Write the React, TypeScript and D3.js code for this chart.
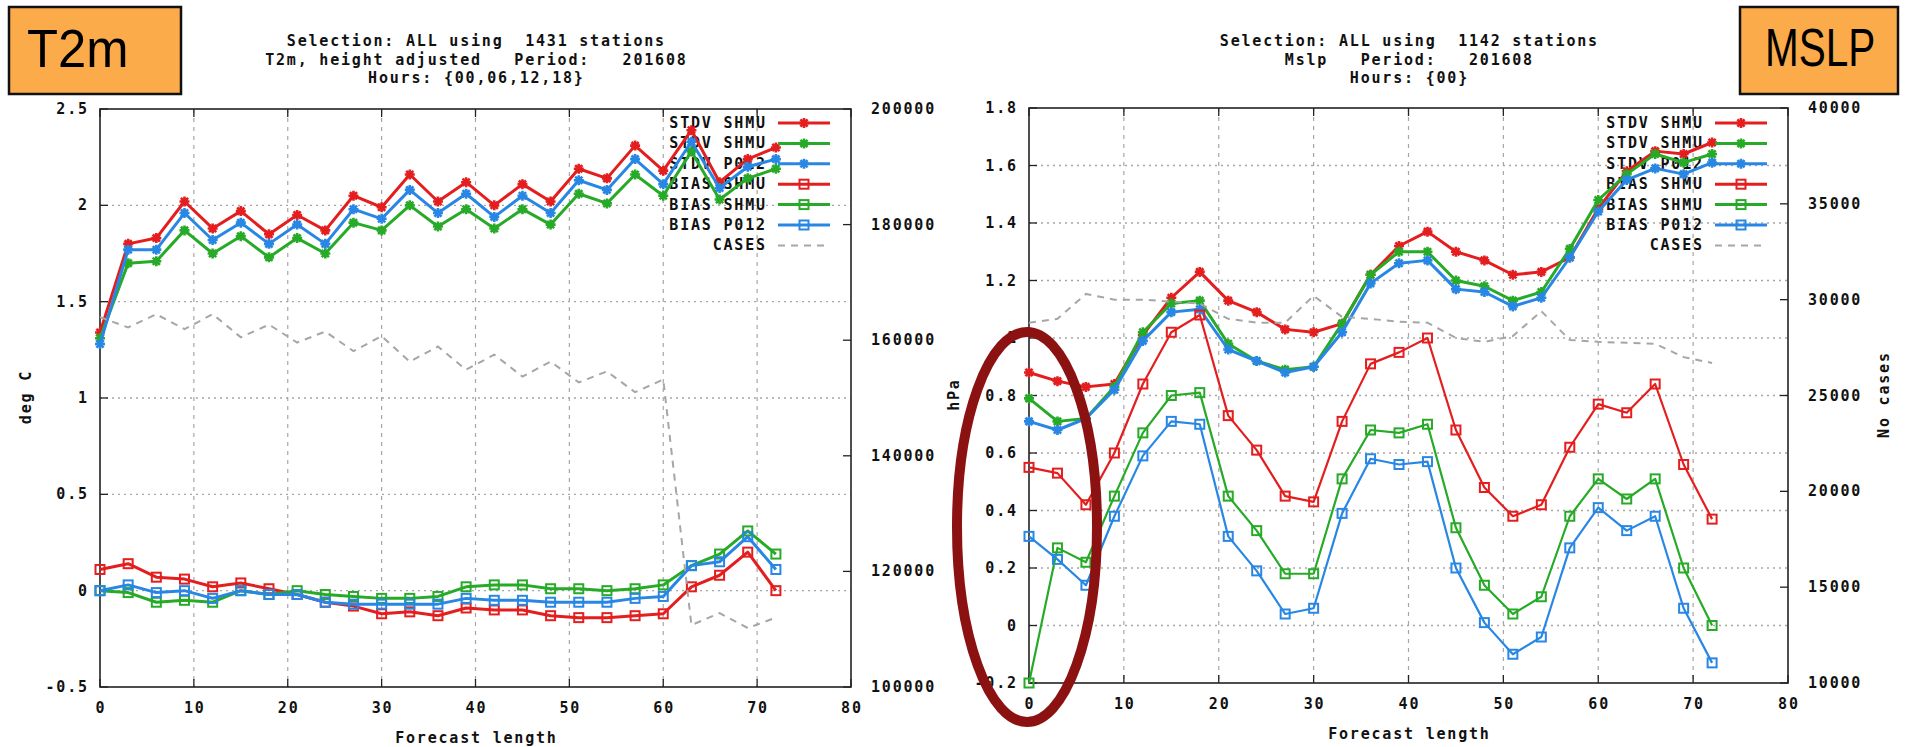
import React from 'react';
import * as d3 from 'd3';

// forecast lengths (hours) shared by both panels
const forecastHours = [0, 3, 6, 9, 12, 15, 18, 21, 24, 27, 30, 33, 36, 39, 42, 45, 48, 51, 54, 57, 60, 63, 66, 69, 72];

// T2m panel
const t2mStdvShmu = [1.34, 1.80, 1.83, 2.02, 1.88, 1.97, 1.85, 1.95, 1.87, 2.05, 1.99, 2.16, 2.02, 2.12, 2.00, 2.11, 2.02, 2.19, 2.14, 2.31, 2.18, 2.39, 2.12, 2.24, 2.30];
const t2mStdvShmu2 = [1.31, 1.70, 1.71, 1.87, 1.75, 1.84, 1.73, 1.83, 1.75, 1.91, 1.87, 2.00, 1.89, 1.98, 1.88, 1.98, 1.90, 2.06, 2.01, 2.16, 2.05, 2.28, 2.03, 2.14, 2.19];
const t2mStdvP012 = [1.28, 1.77, 1.77, 1.96, 1.82, 1.91, 1.80, 1.90, 1.80, 1.98, 1.93, 2.08, 1.96, 2.06, 1.94, 2.05, 1.96, 2.13, 2.08, 2.24, 2.11, 2.33, 2.09, 2.20, 2.24];
const t2mBiasShmu = [0.11, 0.14, 0.07, 0.06, 0.02, 0.04, 0.01, -0.02, -0.06, -0.08, -0.12, -0.11, -0.13, -0.09, -0.10, -0.10, -0.13, -0.14, -0.14, -0.13, -0.12, 0.02, 0.08, 0.20, 0.0];
const t2mBiasShmu2 = [0.0, -0.01, -0.06, -0.05, -0.06, 0.0, -0.02, 0.0, -0.02, -0.03, -0.04, -0.04, -0.03, 0.02, 0.03, 0.03, 0.01, 0.01, 0.0, 0.01, 0.03, 0.13, 0.19, 0.31, 0.19];
const t2mBiasP012 = [0.0, 0.03, -0.01, 0.0, -0.04, 0.0, -0.02, -0.02, -0.06, -0.07, -0.07, -0.07, -0.07, -0.04, -0.05, -0.05, -0.06, -0.06, -0.06, -0.04, -0.03, 0.13, 0.15, 0.28, 0.11];
const t2mCases = [164000, 162200, 164500, 161900, 164500, 160500, 162700, 159600, 161500, 158100, 160700, 156300, 158900, 154900, 157500, 153700, 156300, 152700, 154600, 151000, 153200, 110700, 112800, 110200, 112000];

// MSLP panel
const mslpStdvShmu = [0.88, 0.85, 0.83, 0.84, 1.01, 1.14, 1.23, 1.13, 1.09, 1.03, 1.02, 1.05, 1.22, 1.32, 1.37, 1.30, 1.27, 1.22, 1.23, 1.28, 1.45, 1.58, 1.65, 1.64, 1.68];
const mslpStdvShmu2 = [0.79, 0.71, 0.72, 0.83, 1.02, 1.12, 1.13, 0.98, 0.92, 0.89, 0.90, 1.05, 1.22, 1.30, 1.30, 1.20, 1.18, 1.13, 1.16, 1.31, 1.48, 1.57, 1.64, 1.61, 1.64];
const mslpStdvP012 = [0.71, 0.68, 0.72, 0.82, 0.99, 1.09, 1.10, 0.96, 0.92, 0.88, 0.90, 1.02, 1.19, 1.26, 1.27, 1.17, 1.16, 1.11, 1.14, 1.28, 1.44, 1.55, 1.59, 1.57, 1.61];
const mslpBiasShmu = [0.55, 0.53, 0.42, 0.60, 0.84, 1.02, 1.08, 0.73, 0.61, 0.45, 0.43, 0.71, 0.91, 0.95, 1.00, 0.68, 0.48, 0.38, 0.42, 0.62, 0.77, 0.74, 0.84, 0.56, 0.37];
const mslpBiasShmu2 = [-0.20, 0.27, 0.22, 0.45, 0.67, 0.80, 0.81, 0.45, 0.33, 0.18, 0.18, 0.51, 0.68, 0.67, 0.70, 0.34, 0.14, 0.04, 0.10, 0.38, 0.51, 0.44, 0.51, 0.20, 0.0];
const mslpBiasP012 = [0.31, 0.23, 0.14, 0.38, 0.59, 0.71, 0.70, 0.31, 0.19, 0.04, 0.06, 0.39, 0.58, 0.56, 0.57, 0.20, 0.01, -0.10, -0.04, 0.27, 0.41, 0.33, 0.38, 0.06, -0.13];
const mslpCases = [28800, 29000, 30300, 30000, 30000, 29900, 29800, 29000, 28800, 28800, 30200, 29100, 29000, 28850, 28800, 28000, 27800, 28100, 29400, 27900, 27800, 27750, 27700, 27000, 26700];

const xTicks = [0, 10, 20, 30, 40, 50, 60, 70, 80];
const t2mYTicks = [-0.5, 0, 0.5, 1, 1.5, 2, 2.5];
const t2mY2Ticks = [100000, 120000, 140000, 160000, 180000, 200000];
const mslpYTicks = [-0.2, 0, 0.2, 0.4, 0.6, 0.8, 1, 1.2, 1.4, 1.6, 1.8];
const mslpY2Ticks = [10000, 15000, 20000, 25000, 30000, 35000, 40000];

const legendNames = ['STDV SHMU', 'STDV SHMU', 'STDV P012', 'BIAS SHMU', 'BIAS SHMU', 'BIAS P012'];

const RED = '#e41e1e';
const GREEN = '#27aa27';
const BLUE = '#2887e4';
const GREY = '#a6a6a6';
const MONO = "'DejaVu Sans Mono', monospace";
const LS = 1.8;

type Series = { values: number[]; color: string; marker: 'star' | 'square'; width: number };

interface PanelProps {
  x0: number; x1: number; y0: number; y1: number;
  yDomain: [number, number]; yTicks: number[];
  y2Domain: [number, number]; y2Ticks: number[];
  yLabel: string; yLabelX: number;
  y2Label?: string; y2LabelX?: number;
  title: string[];
  series: Series[];
  cases: number[];
}

const Txt: React.FC<{ x: number; y: number; anchor?: string; children: React.ReactNode }> = ({ x, y, anchor = 'start', children }) => {
  // letter-spacing leaves a trailing gap, shift to keep anchors honest
  const dx = anchor === 'end' ? LS : anchor === 'middle' ? LS / 2 : 0;
  return (
    <text x={x + dx} y={y} textAnchor={anchor} fontFamily={MONO} fontWeight="bold" fontSize={15}
      letterSpacing={LS} fill="#111" style={{ whiteSpace: 'pre' }}>{children}</text>
  );
};

const Marker: React.FC<{ kind: 'star' | 'square'; cx: number; cy: number; color: string }> = ({ kind, cx, cy, color }) => {
  if (kind === 'square') {
    return <rect x={cx - 4.5} y={cy - 4.5} width={9} height={9} fill="none" stroke={color} strokeWidth={2} />;
  }
  return (
    <path d={`M${cx - 5},${cy}H${cx + 5}M${cx},${cy - 5}V${cy + 5}M${cx - 3.6},${cy - 3.6}L${cx + 3.6},${cy + 3.6}M${cx - 3.6},${cy + 3.6}L${cx + 3.6},${cy - 3.6}`}
      stroke={color} strokeWidth={2.6} fill="none" />
  );
};

const Panel: React.FC<PanelProps> = (p) => {
  const x = d3.scaleLinear().domain([0, 80]).range([p.x0, p.x1]);
  const y = d3.scaleLinear().domain(p.yDomain).range([p.y1, p.y0]);
  const y2 = d3.scaleLinear().domain(p.y2Domain).range([p.y1, p.y0]);
  const line = d3.line<number>().x((_, i) => x(forecastHours[i])).y(d => y(d));
  const caseLine = d3.line<number>().x((_, i) => x(forecastHours[i])).y(d => y2(d));
  const cx = (p.x0 + p.x1) / 2;
  const cy = (p.y0 + p.y1) / 2;
  const legX = p.x1 - 86;
  const legRow = (i: number) => 123 + i * 20.4;

  return (
    <g>
      {p.title.map((t, i) => (
        <Txt key={i} x={cx} y={46 + i * 18.5} anchor="middle">{t}</Txt>
      ))}

      {/* grid */}
      {p.yTicks.slice(1, -1).map(t => (
        <line key={'gy' + t} x1={p.x0} x2={p.x1} y1={y(t)} y2={y(t)} stroke={GREY} strokeWidth={1.3} strokeDasharray="2,4" />
      ))}
      {xTicks.slice(1, -1).map(t => (
        <line key={'gx' + t} x1={x(t)} x2={x(t)} y1={p.y0} y2={p.y1} stroke={GREY} strokeWidth={1.2} strokeDasharray="4,5" />
      ))}

      {/* ticks */}
      {xTicks.map(t => (
        <g key={'tx' + t}>
          <line x1={x(t)} x2={x(t)} y1={p.y1} y2={p.y1 - 8} stroke="#222" strokeWidth={1.3} />
          <line x1={x(t)} x2={x(t)} y1={p.y0} y2={p.y0 + 8} stroke="#222" strokeWidth={1.3} />
          <Txt x={x(t)} y={p.y1 + 26} anchor="middle">{String(t)}</Txt>
        </g>
      ))}
      {p.yTicks.map(t => (
        <g key={'ty' + t}>
          <line x1={p.x0} x2={p.x0 + 8} y1={y(t)} y2={y(t)} stroke="#222" strokeWidth={1.3} />
          <Txt x={p.x0 - 13} y={y(t) + 5} anchor="end">{String(t)}</Txt>
        </g>
      ))}
      {p.y2Ticks.map(t => (
        <g key={'ty2' + t}>
          <line x1={p.x1} x2={p.x1 - 8} y1={y2(t)} y2={y2(t)} stroke="#222" strokeWidth={1.3} />
          <Txt x={p.x1 + 20} y={y2(t) + 5}>{String(t)}</Txt>
        </g>
      ))}

      <rect x={p.x0} y={p.y0} width={p.x1 - p.x0} height={p.y1 - p.y0} fill="none" stroke="#222" strokeWidth={1.6} />

      {/* axis titles */}
      <Txt x={cx} y={p.y1 + 56} anchor="middle">Forecast length</Txt>
      <g transform={`translate(${p.yLabelX + 5},${cy}) rotate(-90)`}>
        <Txt x={0} y={0} anchor="middle">{p.yLabel}</Txt>
      </g>
      {p.y2Label && (
        <g transform={`translate(${(p.y2LabelX || 0) + 5},${cy}) rotate(-90)`}>
          <Txt x={0} y={0} anchor="middle">{p.y2Label}</Txt>
        </g>
      )}

      {/* legend text */}
      {legendNames.map((n, i) => (
        <Txt key={'lt' + i} x={legX} y={legRow(i) + 5} anchor="end">{n}</Txt>
      ))}
      <Txt x={legX} y={legRow(6) + 5} anchor="end">CASES</Txt>

      {/* data */}
      {p.series.map((s, i) => (
        <g key={'s' + i}>
          <line x1={p.x1 - 73} x2={p.x1 - 21} y1={legRow(i)} y2={legRow(i)} stroke={s.color} strokeWidth={3} />
          <Marker kind={s.marker} cx={p.x1 - 47} cy={legRow(i)} color={s.color} />
          <path d={line(s.values) || ''} fill="none" stroke={s.color} strokeWidth={s.width} strokeLinejoin="round" />
          {s.values.map((v, j) => (
            <Marker key={j} kind={s.marker} cx={x(forecastHours[j])} cy={y(v)} color={s.color} />
          ))}
        </g>
      ))}
      <line x1={p.x1 - 73} x2={p.x1 - 21} y1={legRow(6)} y2={legRow(6)} stroke={GREY} strokeWidth={2} strokeDasharray="7,6" />
      <path d={caseLine(p.cases) || ''} fill="none" stroke={GREY} strokeWidth={2} strokeDasharray="7,6" />
    </g>
  );
};

const mkSeries = (vals: number[][], biasWidth: number): Series[] => [
  { values: vals[0], color: RED, marker: 'star', width: 3 },
  { values: vals[1], color: GREEN, marker: 'star', width: 3 },
  { values: vals[2], color: BLUE, marker: 'star', width: 3 },
  { values: vals[3], color: RED, marker: 'square', width: biasWidth },
  { values: vals[4], color: GREEN, marker: 'square', width: biasWidth },
  { values: vals[5], color: BLUE, marker: 'square', width: biasWidth },
];

const SANS = "'Liberation Sans', Arial, sans-serif";

export default function App() {
  return (
    <svg width={1905} height={747} style={{ position: 'absolute', left: 0, top: 0, background: '#fff' }}>
      <rect width={1905} height={747} fill="#fff" />
      <Panel
        x0={100} x1={851} y0={109} y1={687}
        yDomain={[-0.5, 2.5]} yTicks={t2mYTicks}
        y2Domain={[100000, 200000]} y2Ticks={t2mY2Ticks}
        yLabel="deg C" yLabelX={26}
        title={['Selection: ALL using  1431 stations', 'T2m, height adjusted   Period:   201608', 'Hours: {00,06,12,18}']}
        series={mkSeries([t2mStdvShmu, t2mStdvShmu2, t2mStdvP012, t2mBiasShmu, t2mBiasShmu2, t2mBiasP012], 3)}
        cases={t2mCases}
      />
      <Panel
        x0={1029} x1={1788} y0={108} y1={683}
        yDomain={[-0.2, 1.8]} yTicks={mslpYTicks}
        y2Domain={[10000, 40000]} y2Ticks={mslpY2Ticks}
        yLabel="hPa" yLabelX={954}
        y2Label="No cases" y2LabelX={1884}
        title={['Selection: ALL using  1142 stations', 'Mslp   Period:   201608', 'Hours: {00}']}
        series={mkSeries([mslpStdvShmu, mslpStdvShmu2, mslpStdvP012, mslpBiasShmu, mslpBiasShmu2, mslpBiasP012], 2.2)}
        cases={mslpCases}
      />

      {/* orange tags */}
      <rect x={9} y={7} width={172} height={87} fill="#fbab4a" stroke="#111" strokeWidth={2.5} />
      <g transform="translate(27,67) scale(0.94,1)">
        <text x={0} y={0} fontFamily={SANS} fontSize={54} fill="#000">T2m</text>
      </g>
      <rect x={1740} y={7} width={158} height={87} fill="#fbab4a" stroke="#111" strokeWidth={2.5} />
      <g transform="translate(1765,66) scale(0.75,1)">
        <text x={0} y={0} fontFamily={SANS} fontSize={54} fill="#000">MSLP</text>
      </g>

      {/* highlight ellipse */}
      <ellipse cx={1027} cy={527} rx={70} ry={195} fill="none" stroke="#8c1212" strokeWidth={10} />
    </svg>
  );
}
